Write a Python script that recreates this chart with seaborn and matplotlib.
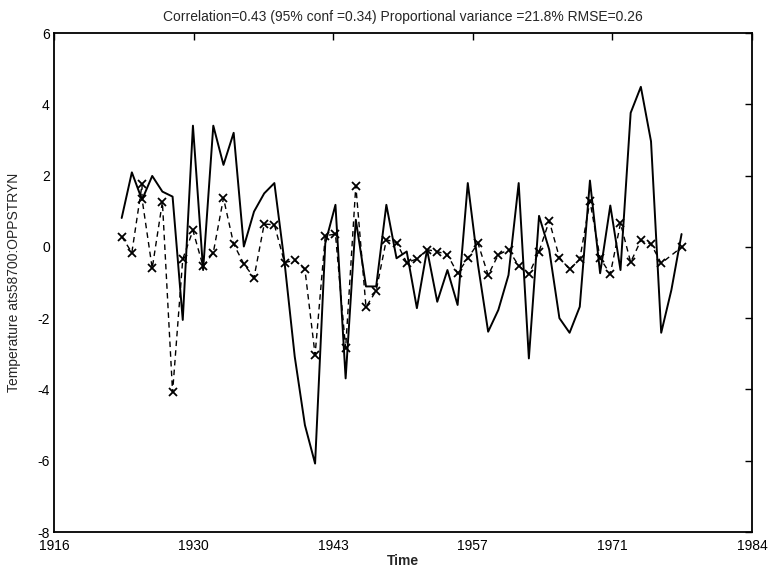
import numpy as np
import pandas as pd
import matplotlib
matplotlib.use("Agg")
import matplotlib.pyplot as plt
import seaborn as sns

# ---- data ----
years_obs = [1923, 1924, 1925, 1926, 1927, 1928, 1929, 1930, 1931, 1932,
             1933, 1934, 1935, 1936, 1937, 1938, 1939, 1940, 1941, 1942,
             1943, 1944, 1945, 1946, 1947, 1948, 1949, 1950, 1951, 1952,
             1953, 1954, 1955, 1956, 1957, 1958, 1959, 1960, 1961, 1962,
             1963, 1964, 1965, 1966, 1967, 1968, 1969, 1970, 1971, 1972,
             1973, 1974, 1975, 1976, 1977, 1978]
observed = [0.81, 2.09, 1.32, 1.99, 1.55, 1.41, -2.05, 3.40, -0.65, 3.40,
            2.30, 3.20, 0.01, 0.99, 1.50, 1.79, -0.44, -3.08, -5.00, -6.08,
            0.10, 1.18, -3.69, 0.76, -1.11, -1.11, 1.18, -0.32, -0.13, -1.72,
            -0.08, -1.54, -0.65, -1.63, 1.79, -0.50, -2.38, -1.77, -0.79, 1.79,
            -3.13, 0.87, -0.08, -2.00, -2.41, -1.68, 1.86, -0.74, 1.16, -0.65,
            3.76, 4.49, 2.96, -2.41, -1.21, 0.36]

years_mod = [1923, 1924, 1925, 1925, 1926, 1927, 1928, 1929, 1930, 1931,
             1932, 1933, 1934, 1935, 1936, 1937, 1938, 1939, 1940, 1941,
             1942, 1943, 1944, 1945, 1946, 1947, 1948, 1949, 1950, 1951,
             1952, 1953, 1954, 1955, 1956, 1957, 1958, 1959, 1960, 1961,
             1962, 1963, 1964, 1965, 1966, 1967, 1968, 1969, 1970, 1971,
             1972, 1973, 1974, 1975, 1976, 1978]
modelled = [0.29, -0.16, 1.75, 1.35, -0.60, 1.26, -4.08, -0.34, 0.46, -0.55,
            -0.16, 1.37, 0.08, -0.48, -0.86, 0.64, 0.62, -0.44, -0.38, -0.63,
            -3.03, 0.31, 0.36, -2.85, 1.72, -1.69, -1.23, 0.20, 0.12, -0.44,
            -0.34, -0.08, -0.13, -0.22, -0.74, -0.32, 0.10, -0.79, -0.22, -0.08,
            -0.53, -0.77, -0.13, 0.73, -0.30, -0.63, -0.35, 1.29, -0.32, -0.76,
            0.66, -0.43, 0.18, 0.08, -0.46, -0.01]

xtick_labels = ["1916", "1930", "1943", "1957", "1971", "1984"]
yticks = [-8, -6, -4, -2, 0, 2, 4, 6]

title = "Correlation=0.43 (95% conf =0.34) Proportional variance =21.8% RMSE=0.26"
xlabel = "Time"
ylabel = "Temperature ats58700:OPPSTRYN"

# ---- plot ----
sns.set_style("white")
plt.rcParams["font.family"] = ["Liberation Sans", "DejaVu Sans"]

fig = plt.figure(figsize=(7.69, 5.72), dpi=100)
ax = fig.add_axes([0.0702, 0.0699, 0.9077, 0.8724])

df_obs = pd.DataFrame({"Time": years_obs, "Value": observed})
df_mod = pd.DataFrame({"Time": years_mod, "Value": modelled})

sns.lineplot(data=df_obs, x="Time", y="Value", ax=ax, color="black",
             linewidth=1.4, sort=False, estimator=None)
sns.lineplot(data=df_mod, x="Time", y="Value", ax=ax, color="black",
             linewidth=1.0, linestyle=(0, (4, 3)), marker="x", markersize=6,
             markeredgewidth=1.3, markeredgecolor="black",
             sort=False, estimator=None)

xmin, xmax = 1916.35, 1984.92
ax.set_xlim(xmin, xmax)
ax.set_ylim(-8, 6)
ax.set_xticks(np.linspace(xmin, xmax, len(xtick_labels)))
ax.set_xticklabels(xtick_labels)
ax.set_yticks(yticks)
ax.set_yticklabels([str(v) for v in yticks])

ax.tick_params(direction="in", length=5, width=1, top=True, right=True,
               labelsize=10, colors="black")
ax.tick_params(axis="x", pad=5)
ax.tick_params(axis="y", pad=3)
for s in ax.spines.values():
    s.set_color("black")
    s.set_linewidth(1.3)

ax.set_title(title, fontsize=10, pad=9)
ax.set_xlabel(xlabel, fontsize=10, fontweight="bold", labelpad=1)
ax.set_ylabel(ylabel, fontsize=10)
ax.yaxis.set_label_coords(-0.047, 0.5)

fig.savefig("out.png", dpi=100, facecolor="white")
